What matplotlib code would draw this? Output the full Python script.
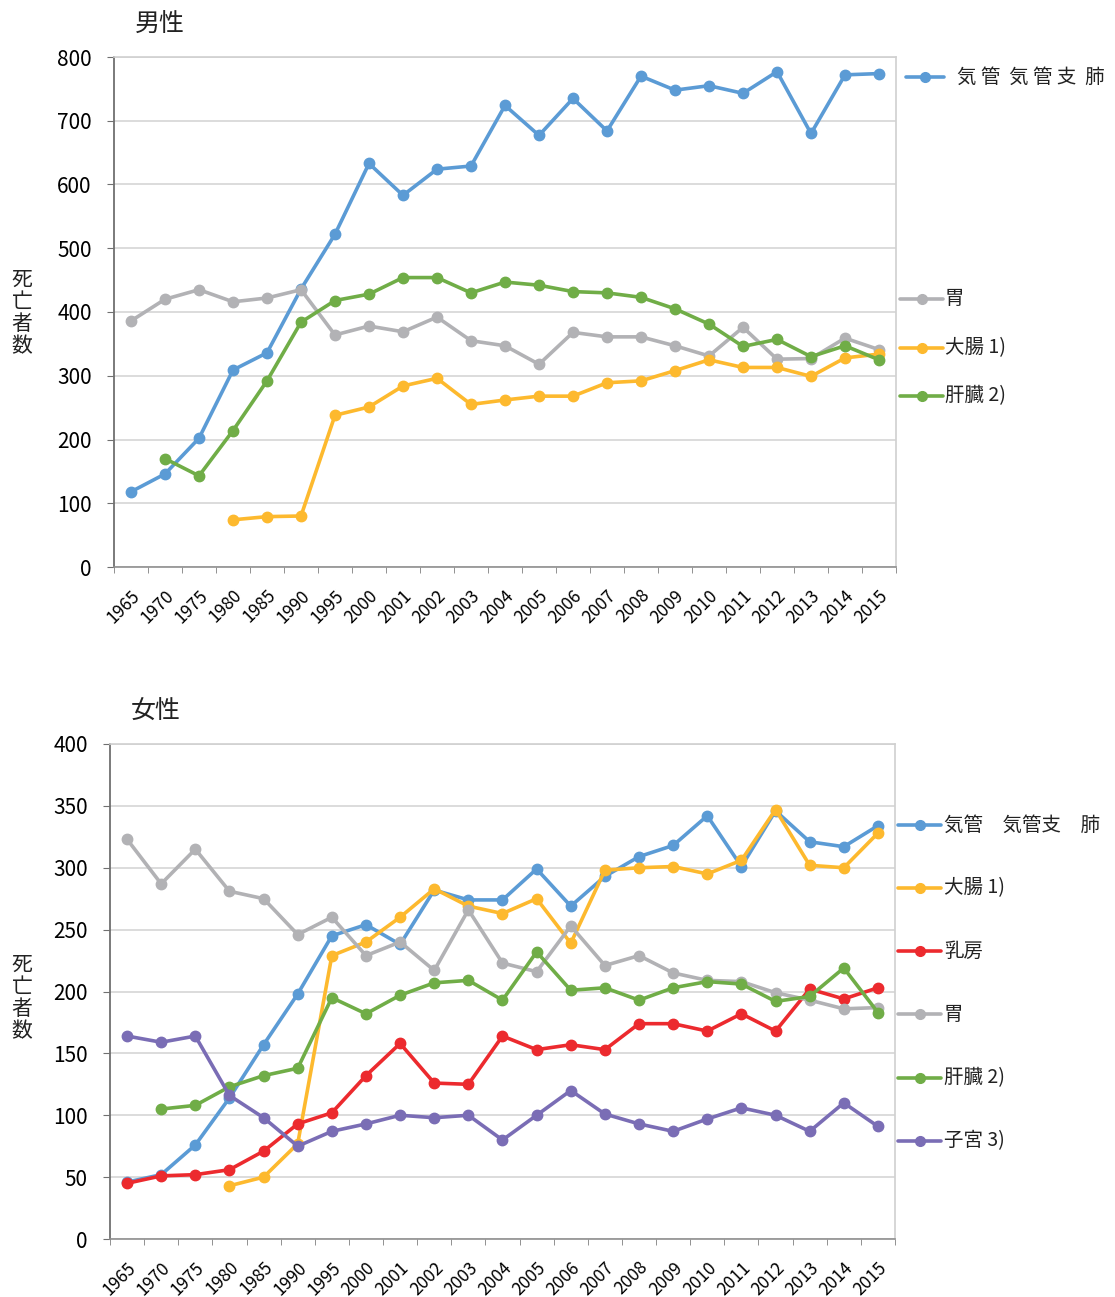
import numpy as np
import matplotlib
matplotlib.use('Agg')
import matplotlib.pyplot as plt

plt.rcParams['font.family'] = ['Noto Sans CJK JP', 'DejaVu Sans']

# categories
years = ['1965', '1970', '1975', '1980', '1985', '1990', '1995', '2000', '2001', '2002',
         '2003', '2004', '2005', '2006', '2007', '2008', '2009', '2010', '2011', '2012',
         '2013', '2014', '2015']

# male
m_lung = [118, 146, 202, 309, 336, 436, 522, 633, 583, 624, 629, 724, 677, 735, 684,
          770, 748, 755, 743, 777, 680, 772, 774]
m_stomach = [386, 420, 435, 416, 422, 435, 364, 378, 369, 392, 355, 347, 318, 368, 361,
             361, 347, 331, 376, 326, 327, 359, 341]
m_colon = [None, None, None, 74, 79, 80, 238, 251, 284, 296, 255, 262, 268, 268, 289,
           292, 308, 325, 313, 313, 299, 328, 334]
m_liver = [None, 170, 143, 214, 292, 384, 418, 428, 454, 454, 430, 447, 442, 432, 430,
           423, 405, 381, 346, 357, 330, 347, 325]

# female
f_lung = [46, 52, 76, 114, 157, 198, 245, 254, 238, 282, 274, 274, 299, 269, 293,
          309, 318, 342, 301, 346, 321, 317, 334]
f_colon = [None, None, None, 43, 50, 77, 229, 240, 260, 283, 269, 263, 275, 239, 298,
           300, 301, 295, 306, 347, 302, 300, 328]
f_breast = [45, 51, 52, 56, 71, 93, 102, 132, 158, 126, 125, 164, 153, 157, 153,
            174, 174, 168, 182, 168, 202, 194, 203]
f_stomach = [323, 287, 315, 281, 275, 246, 260, 229, 240, 217, 266, 223, 216, 253, 221,
             229, 215, 209, 208, 199, 193, 186, 187]
f_liver = [None, 105, 108, 123, 132, 138, 195, 182, 197, 207, 209, 193, 232, 201, 203,
           193, 203, 208, 206, 192, 196, 219, 183]
f_uterus = [164, 159, 164, 116, 98, 75, 87, 93, 100, 98, 100, 80, 100, 120, 101,
            93, 87, 97, 106, 100, 87, 110, 91]

c_blue = '#5B9BD5'
c_gray = '#B2B2B5'
c_gold = '#FDB92E'
c_green = '#70AD47'
c_red = '#EC2A2E'
c_purple = '#7A6DB5'

male_series = [
    ('気 管  気 管 支  肺', m_lung, c_blue),
    ('胃', m_stomach, c_gray),
    ('大腸 1)', m_colon, c_gold),
    ('肝臓 2)', m_liver, c_green),
]
female_series = [
    ('気管　気管支　肺', f_lung, c_blue),
    ('大腸 1)', f_colon, c_gold),
    ('乳房', f_breast, c_red),
    ('胃', f_stomach, c_gray),
    ('肝臓 2)', f_liver, c_green),
    ('子宮 3)', f_uterus, c_purple),
]

W, H = 1115, 1297
fig = plt.figure(figsize=(W / 100, H / 100), dpi=100)


def make_axes(left, top, right, bottom):
    return fig.add_axes([left / W, 1 - bottom / H, (right - left) / W, (bottom - top) / H])


def style_axes(ax, ymax, ystep):
    x = np.arange(len(years))
    ax.set_xlim(-0.5, len(years) - 0.5)
    ax.set_ylim(0, ymax)
    ax.set_yticks(np.arange(0, ymax + 1, ystep))
    ax.set_xticks(x)
    ax.set_xticklabels(years, rotation=45, ha='right', rotation_mode='anchor', fontsize=12.5)
    ax.set_xticks(np.arange(-0.5, len(years), 1), minor=True)
    ax.tick_params(axis='x', which='major', length=0, pad=14)
    ax.tick_params(axis='x', which='minor', length=4, color='#808080')
    ax.tick_params(axis='y', length=5, color='#707070', labelsize=15, pad=11)
    ax.yaxis.grid(True, color='#D9D9D9', linewidth=1.3)
    ax.set_axisbelow(True)
    for s in ['top', 'right']:
        ax.spines[s].set_color('#D0D0D0')
        ax.spines[s].set_linewidth(1.2)
    ax.spines['left'].set_color('#707070')
    ax.spines['left'].set_linewidth(1.3)
    ax.spines['bottom'].set_color('#909090')
    ax.spines['bottom'].set_linewidth(1.2)


def draw_series(ax, series):
    x = np.arange(len(years))
    for name, vals, col in series:
        y = np.array([np.nan if v is None else v for v in vals], dtype=float)
        ax.plot(x, y, color=col, linewidth=2.6, marker='o', markersize=7.5,
                solid_capstyle='round')


def legend_entry(ypix, x0, x1, xt, label, col):
    yf = 1 - ypix / H
    fig.add_artist(plt.Line2D([x0 / W, x1 / W], [yf, yf], color=col, linewidth=2.6,
                              solid_capstyle='round', transform=fig.transFigure))
    fig.add_artist(plt.Line2D([(x0 + x1) / 2 / W], [yf], color=col, marker='o',
                              markersize=7, transform=fig.transFigure))
    fig.text(xt / W, yf, label, fontsize=14, va='center', ha='left', color='#222222')


# ---- male ----
ax1 = make_axes(114, 57, 896, 567)
style_axes(ax1, 800, 100)
draw_series(ax1, male_series)
fig.text(160 / W, 1 - 25 / H, '男性', fontsize=18, ha='center', va='center', color='#222222')
fig.text(22 / W, 1 - 313 / H, '死\n亡\n者\n数', fontsize=15, ha='center', va='center',
         linespacing=1.0, color='#222222')
top_leg_y = [77, 299, 348, 396]
for i, (name, vals, col) in enumerate(male_series):
    if i == 0:
        legend_entry(top_leg_y[i], 906, 944, 957, name, col)
    else:
        legend_entry(top_leg_y[i], 900, 943, 945, name, col)

# ---- female ----
ax2 = make_axes(110, 744, 895, 1239)
style_axes(ax2, 400, 50)
draw_series(ax2, female_series)
fig.text(156 / W, 1 - 712 / H, '女性', fontsize=18, ha='center', va='center', color='#222222')
fig.text(22 / W, 1 - 998 / H, '死\n亡\n者\n数', fontsize=15, ha='center', va='center',
         linespacing=1.0, color='#222222')
bot_leg_y = [825, 888, 951, 1014, 1078, 1141]
for i, (name, vals, col) in enumerate(female_series):
    legend_entry(bot_leg_y[i], 898, 941, 944, name, col)

fig.savefig('out.png', dpi=100, facecolor='white')
